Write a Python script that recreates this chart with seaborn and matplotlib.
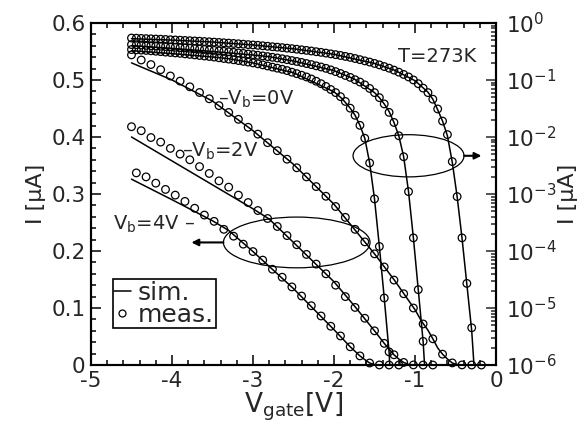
import matplotlib
matplotlib.use("Agg")
import matplotlib.pyplot as plt
import seaborn as sns
from matplotlib.patches import Ellipse
from matplotlib.lines import Line2D
from matplotlib.ticker import MultipleLocator, LogLocator, NullFormatter

# measured gate voltages (V), 0.06 V steps
v_meas = [-4.50, -4.44, -4.38, -4.32, -4.26, -4.20, -4.14, -4.08, -4.02, -3.96,
          -3.90, -3.84, -3.78, -3.72, -3.66, -3.60, -3.54, -3.48, -3.42, -3.36,
          -3.30, -3.24, -3.18, -3.12, -3.06, -3.00, -2.94, -2.88, -2.82, -2.76,
          -2.70, -2.64, -2.58, -2.52, -2.46, -2.40, -2.34, -2.28, -2.22, -2.16,
          -2.10, -2.04, -1.98, -1.92, -1.86, -1.80, -1.74, -1.68, -1.62, -1.56,
          -1.50, -1.44, -1.38, -1.32, -1.26, -1.20, -1.14, -1.08, -1.02, -0.96,
          -0.90, -0.84, -0.78, -0.72, -0.66, -0.60, -0.54, -0.48, -0.42, -0.36,
          -0.30, -0.24, -0.18]

# measured current (uA) for Vb = 0, 2, 4 V
i_meas_vb0 = [0.544, 0.540, 0.535, 0.531, 0.527, 0.522, 0.518, 0.513, 0.507, 0.503,
              0.498, 0.493, 0.488, 0.483, 0.478, 0.472, 0.467, 0.461, 0.455, 0.449,
              0.443, 0.437, 0.431, 0.424, 0.417, 0.411, 0.405, 0.398, 0.390, 0.383,
              0.376, 0.369, 0.361, 0.354, 0.346, 0.338, 0.330, 0.322, 0.313, 0.305,
              0.296, 0.287, 0.278, 0.269, 0.259, 0.249, 0.238, 0.227, 0.216, 0.206,
              0.195, 0.184, 0.172, 0.161, 0.149, 0.137, 0.125, 0.113, 0.100, 0.086,
              0.072, 0.060, 0.046, 0.031, 0.019, 0.011, 3.7e-3, 9.0e-4, 1.7e-4, 2.7e-5,
              4.5e-6, 3e-7, 2e-8]
i_meas_vb2 = [0.418, 0.416, 0.411, 0.405, 0.399, 0.395, 0.391, 0.386, 0.380, 0.375,
              0.370, 0.365, 0.360, 0.354, 0.348, 0.342, 0.336, 0.330, 0.323, 0.318,
              0.312, 0.305, 0.298, 0.292, 0.285, 0.278, 0.271, 0.264, 0.257, 0.250,
              0.243, 0.235, 0.227, 0.219, 0.211, 0.203, 0.194, 0.186, 0.177, 0.169,
              0.160, 0.150, 0.140, 0.130, 0.120, 0.111, 0.101, 0.092, 0.082, 0.071,
              0.060, 0.049, 0.038, 0.027, 0.018, 0.0105, 4.5e-3, 1.1e-3, 1.7e-4, 2.1e-5,
              2.6e-6, 2e-7, 1e-8]
i_meas_vb4 = [0.341, 0.337, 0.334, 0.330, 0.325, 0.319, 0.314, 0.308, 0.303, 0.298,
              0.293, 0.287, 0.281, 0.275, 0.269, 0.263, 0.258, 0.252, 0.245, 0.238,
              0.232, 0.226, 0.219, 0.212, 0.206, 0.199, 0.192, 0.184, 0.176, 0.168,
              0.161, 0.154, 0.146, 0.137, 0.129, 0.121, 0.113, 0.104, 0.095, 0.086,
              0.077, 0.068, 0.060, 0.051, 0.042, 0.032, 0.024, 0.016, 9.5e-3, 3.5e-3,
              8.2e-4, 1.2e-4, 1.5e-5, 1.7e-6, 1e-7, 1e-8]

# simulated curves
v_sim_vb0 = [-4.5, -4.0, -3.5, -3.0, -2.5, -2.0, -1.5, -1.25, -1.0, -0.92, -0.84,
             -0.78, -0.72, -0.66, -0.60, -0.54, -0.48, -0.42, -0.36, -0.30, -0.27]
i_sim_vb0 = [0.530, 0.500, 0.463, 0.411, 0.352, 0.282, 0.195, 0.148, 0.097, 0.077,
             0.061, 0.046, 0.030, 0.019, 0.0105, 3.6e-3, 9e-4, 1.7e-4, 2.6e-5, 4e-6, 9e-7]
v_sim_vb2 = [-4.5, -4.0, -3.5, -3.0, -2.8, -2.5, -2.0, -1.75, -1.5, -1.44, -1.38,
             -1.32, -1.26, -1.20, -1.14, -1.08, -1.02, -0.96, -0.90, -0.88]
i_sim_vb2 = [0.400, 0.358, 0.316, 0.274, 0.256, 0.215, 0.146, 0.104, 0.060, 0.049,
             0.038, 0.028, 0.018, 0.0105, 4.5e-3, 1.1e-3, 1.7e-4, 2.1e-5, 2.6e-6, 9e-7]
v_sim_vb4 = [-4.5, -4.0, -3.5, -3.3, -3.0, -2.5, -2.0, -1.9, -1.8, -1.74, -1.68,
             -1.62, -1.56, -1.50, -1.44, -1.38, -1.32, -1.31]
i_sim_vb4 = [0.326, 0.290, 0.253, 0.236, 0.199, 0.134, 0.062, 0.047, 0.032, 0.024,
             0.016, 9.5e-3, 3.5e-3, 8.2e-4, 1.2e-4, 1.5e-5, 1.7e-6, 9e-7]

sns.set_style("ticks")
plt.rcParams["font.family"] = ["DejaVu Sans"]
plt.rcParams["mathtext.fontset"] = "dejavusans"
plt.rcParams["mathtext.default"] = "regular"
plt.rcParams["axes.unicode_minus"] = False

fig = plt.figure(figsize=(5.87, 4.33), dpi=100)
ax = fig.add_axes([0.155, 0.157, 0.690, 0.790])
ax2 = ax.twinx()
ax2.set_yscale("log")

meas = [(i_meas_vb0, 0), (i_meas_vb2, 0), (i_meas_vb4, 1)]
sims = [(v_sim_vb0, i_sim_vb0), (v_sim_vb2, i_sim_vb2), (v_sim_vb4, i_sim_vb4)]

circ = dict(marker="o", s=30, facecolor="none", edgecolor="black", linewidth=0.9)

for (vs, isim), (im, start) in zip(sims, meas):
    vm = v_meas[:len(im)]
    # linear axis: every other point
    sns.lineplot(x=vs, y=isim, ax=ax, color="black", lw=1.1, sort=False,
                 estimator=None, clip_on=False)
    sns.scatterplot(x=vm[start::2], y=im[start::2], ax=ax, clip_on=False,
                    zorder=3, **circ)
    # log axis: all points
    sns.lineplot(x=vs, y=isim, ax=ax2, color="black", lw=1.1, sort=False,
                 estimator=None)
    sns.scatterplot(x=vm, y=im, ax=ax2, zorder=3, **circ)

ax.set_xlim(-5, 0)
ax.set_ylim(0, 0.6)
ax2.set_ylim(1e-6, 1)

ax.xaxis.set_minor_locator(MultipleLocator(0.2))
ax.yaxis.set_minor_locator(MultipleLocator(0.02))
ax.set_yticks([0, 0.1, 0.2, 0.3, 0.4, 0.5, 0.6])
ax.set_yticklabels(["0", "0.1", "0.2", "0.3", "0.4", "0.5", "0.6"])
ax.set_xticks([-5, -4, -3, -2, -1, 0])
ax.set_xticklabels(["-5", "-4", "-3", "-2", "-1", "0"])
ax2.yaxis.set_major_locator(LogLocator(base=10, numticks=10))
ax2.yaxis.set_minor_locator(LogLocator(base=10, subs=range(2, 10), numticks=20))
ax2.yaxis.set_minor_formatter(NullFormatter())

for a in (ax, ax2):
    for sp in a.spines.values():
        sp.set_linewidth(1.5)
        sp.set_color("black")
ax.tick_params(which="both", direction="in", top=True, right=False,
               labelsize=15.5, width=1.1, color="black", pad=4)
ax.tick_params(which="major", length=7)
ax.tick_params(which="minor", length=3.6)
ax2.tick_params(which="both", direction="in", labelsize=15.5, width=1.1, pad=7)
ax2.tick_params(which="major", length=7)
ax2.tick_params(which="minor", length=3.6)

ax.set_xlabel(r"V$_{gate}$[V]", fontsize=19, labelpad=0)
ax.set_ylabel("I [μA]", fontsize=16, labelpad=4)
ax2.set_ylabel("I [μA]", fontsize=16, rotation=90, labelpad=1)

# curve labels
ax.text(-3.43, 0.456, "–V$_b$=0V", fontsize=14, va="baseline")
ax.text(-3.88, 0.365, "–V$_b$=2V", fontsize=14, va="baseline")
ax.text(-4.725, 0.237, "V$_b$=4V –", fontsize=14, va="baseline")
ax.text(-0.24, 0.532, "T=273K", fontsize=14, ha="right", va="baseline")

# ellipses with arrows pointing to the axis they belong to
ax.add_patch(Ellipse((-2.46, 0.215), 1.81, 0.089, fill=False, lw=0.9,
                     color="black", zorder=4))
ax.add_patch(Ellipse((-1.08, 0.367), 1.37, 0.074, fill=False, lw=0.9,
                     color="black", zorder=4))
ax.annotate("", xy=(-3.76, 0.215), xytext=(-3.365, 0.215),
            arrowprops=dict(arrowstyle="-|>", color="black", lw=1.5,
                            mutation_scale=10, shrinkA=0, shrinkB=0))
ax.annotate("", xy=(-0.18, 0.367), xytext=(-0.395, 0.367),
            arrowprops=dict(arrowstyle="-|>", color="black", lw=1.5,
                            mutation_scale=10, shrinkA=0, shrinkB=0))

handles = [Line2D([], [], color="black", lw=1.1),
           Line2D([], [], marker="o", ls="none", mfc="none", mec="black",
                  ms=5, mew=0.9)]
leg = ax2.legend(handles, ["sim.", "meas."], loc="upper left",
                 bbox_to_anchor=(0.054, 0.251), borderaxespad=0, fontsize=18,
                 handlelength=0.65, handletextpad=0.3, labelspacing=-0.08,
                 borderpad=0.06, fancybox=False, framealpha=1)
leg.get_frame().set_edgecolor("black")
leg.get_frame().set_linewidth(1.2)

fig.savefig("out.png", dpi=100)
